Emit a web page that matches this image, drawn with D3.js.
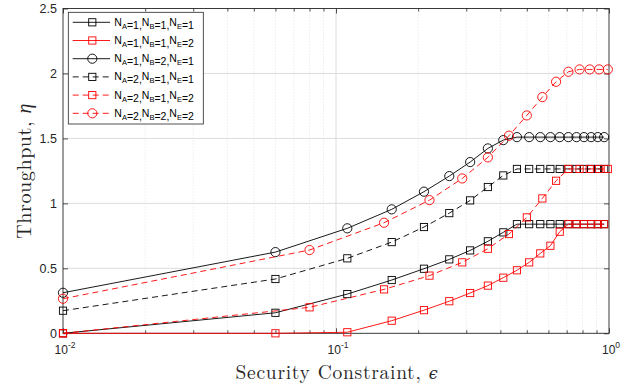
<!DOCTYPE html>
<html><head><meta charset="utf-8">
<script src="https://cdn.jsdelivr.net/npm/d3@7"></script>
<style>body{margin:0;background:#fff}svg{display:block}</style>
</head><body>
<svg id="c" width="635" height="388"></svg>
<script>
// x grids
const xA = [0.01,0.06,0.11,0.16,0.21,0.26,0.31,0.36,0.41,0.46,0.51,0.56,0.61,0.66,0.71,0.76,0.81,0.86,0.91,0.96];
const xB = [0.01,0.08,0.15,0.22,0.29,0.36,0.43,0.50,0.57,0.64,0.71,0.78,0.85,0.92,0.99];
// series values
const s111 = [0,0.158,0.302,0.41,0.497,0.569,0.638,0.708,0.777,0.84,0.84,0.84,0.84,0.84,0.84,0.84,0.84,0.84,0.84,0.84];
const s112 = [0,0,0.008,0.097,0.178,0.247,0.31,0.367,0.428,0.485,0.546,0.615,0.674,0.782,0.84,0.84,0.84,0.84,0.84,0.84];
const s121 = [0.312,0.625,0.808,0.954,1.09,1.21,1.318,1.423,1.487,1.51,1.51,1.51,1.51,1.51,1.51,1.51,1.51,1.51,1.51,1.51];
const s211 = [0.174,0.418,0.577,0.702,0.818,0.925,1.023,1.126,1.215,1.265,1.265,1.265,1.265,1.265,1.265,1.265,1.265,1.265,1.265,1.265];
const s212 = [0,0.2,0.338,0.444,0.546,0.651,0.764,0.892,1.038,1.174,1.265,1.265,1.265,1.265,1.265];
const s222 = [0.266,0.641,0.851,1.025,1.192,1.354,1.521,1.677,1.818,1.936,2.013,2.031,2.031,2.031,2.031];
const legendLabels = [["1","1","1"],["1","1","2"],["1","2","1"],["2","1","1"],["2","1","2"],["2","2","2"]];
const yTicks = [0,0.5,1,1.5,2,2.5];
const xTicks = [0.01,0.1,1];
const xTickExp = ["-2","-1","0"];

const series = [
  {x:xA, y:s111, color:"#000", dash:null, marker:"square"},
  {x:xA, y:s112, color:"#ff0000", dash:null, marker:"square"},
  {x:xA, y:s121, color:"#000", dash:null, marker:"circle"},
  {x:xA, y:s211, color:"#000", dash:"6,4", marker:"square"},
  {x:xB, y:s212, color:"#ff0000", dash:"6,4", marker:"square"},
  {x:xB, y:s222, color:"#ff0000", dash:"6,4", marker:"circle"}
];

const L=63, R=609, T=8.5, B=333.3;
const svg = d3.select("#c");
const x = d3.scaleLog().domain([0.01,1]).range([L,R]);
const y = d3.scaleLinear().domain([0,2.5]).range([B,T]);
const axisColor = "#262626";

// minor grid
const minor = [];
for (let d of [0.01,0.1]) for (let k=2;k<=9;k++) minor.push(d*k);
svg.append("g").selectAll("line").data(minor).join("line")
  .attr("x1",d=>x(d)).attr("x2",d=>x(d)).attr("y1",T).attr("y2",B)
  .attr("stroke","#cfcfcf").attr("stroke-width",0.6).attr("stroke-dasharray","1,2");
// major grid
svg.append("g").selectAll("line").data([0.1]).join("line")
  .attr("x1",d=>x(d)).attr("x2",d=>x(d)).attr("y1",T).attr("y2",B)
  .attr("stroke","#dcdcdc").attr("stroke-width",1);
svg.append("g").selectAll("line").data(yTicks.slice(1,-1)).join("line")
  .attr("x1",L).attr("x2",R).attr("y1",d=>y(d)).attr("y2",d=>y(d))
  .attr("stroke","#dcdcdc").attr("stroke-width",1);

// axes
const gx = svg.append("g").attr("transform",`translate(0,${B})`)
  .call(d3.axisBottom(x).tickValues(xTicks).tickSize(-5).tickFormat(""));
const gxt = svg.append("g").attr("transform",`translate(0,${T})`)
  .call(d3.axisTop(x).tickValues(xTicks).tickSize(-5).tickFormat(""));
const gxm = svg.append("g").attr("transform",`translate(0,${B})`)
  .call(d3.axisBottom(x).tickValues(minor).tickSize(-3).tickFormat(""));
const gxmt = svg.append("g").attr("transform",`translate(0,${T})`)
  .call(d3.axisTop(x).tickValues(minor).tickSize(-3).tickFormat(""));
const gy = svg.append("g").attr("transform",`translate(${L},0)`)
  .call(d3.axisLeft(y).tickValues(yTicks).tickSize(-5).tickFormat(""));
const gyr = svg.append("g").attr("transform",`translate(${R},0)`)
  .call(d3.axisRight(y).tickValues(yTicks).tickSize(-5).tickFormat(""));
[gx,gxt,gxm,gxmt,gy,gyr].forEach(g=>{
  g.select(".domain").remove();
  g.selectAll("line").attr("stroke",axisColor).attr("stroke-width",0.8);
});
svg.append("rect").attr("x",L).attr("y",T).attr("width",R-L).attr("height",B-T)
  .attr("fill","none").attr("stroke",axisColor).attr("stroke-width",0.9);

// tick labels
const font = "Liberation Sans, Arial, Helvetica, sans-serif";
svg.append("g").selectAll("text").data(yTicks).join("text")
  .attr("x",L-6).attr("y",d=>y(d)+4.5).attr("text-anchor","end")
  .attr("font-family",font).attr("font-size",12.5).attr("fill",axisColor)
  .text(d=>d3.format("")(d));
const xl = svg.append("g").selectAll("text").data(xTicks).join("text")
  .attr("x",d=>x(d)+2).attr("y",B+20.5).attr("text-anchor","middle")
  .attr("font-family",font).attr("font-size",12).attr("fill",axisColor);
xl.append("tspan").text("10");
xl.append("tspan").attr("dy",-5.5).attr("font-size",8.5).text((d,i)=>xTickExp[i]);

// axis labels
const serif = "Latin Modern Roman, Liberation Serif, Times New Roman, serif";
const xlab = svg.append("text").attr("x",(L+R)/2 + 1).attr("y",379).attr("text-anchor","middle")
  .attr("font-family",serif).attr("font-size",19.5).attr("letter-spacing",0.7).attr("fill",axisColor);
xlab.append("tspan").text("Security Constraint, ");
xlab.append("tspan").attr("font-family","DejaVu Serif, serif").attr("font-style","italic").attr("font-size",16).text("\u03F5");
const ylab = svg.append("text").attr("transform",`translate(31,${(T+B)/2}) rotate(-90)`)
  .attr("text-anchor","middle").attr("font-family",serif).attr("font-size",20).attr("letter-spacing",0.6).attr("fill",axisColor);
ylab.append("tspan").text("Throughput, ");
ylab.append("tspan").attr("font-style","italic").text("\u03B7");

// series
const line = d3.line().x(d=>x(d[0])).y(d=>y(d[1]));
function drawMarker(g, m, color){
  if (m==="square") g.append("rect").attr("x",-3.6).attr("y",-3.6).attr("width",7.2).attr("height",7.2)
     .attr("fill","none").attr("stroke",color).attr("stroke-width",0.9);
  else g.append("circle").attr("r",4.6).attr("fill","none").attr("stroke",color).attr("stroke-width",0.9);
}
series.forEach(s=>{
  const pts = s.x.map((xv,i)=>[xv,s.y[i]]);
  svg.append("path").datum(pts).attr("d",line).attr("fill","none")
    .attr("stroke",s.color).attr("stroke-width",0.9)
    .attr("stroke-dasharray",s.dash);
  pts.forEach(p=>{
    const g = svg.append("g").attr("transform",`translate(${x(p[0])},${y(p[1])})`);
    drawMarker(g,s.marker,s.color);
  });
});

// legend
const lg = svg.append("g");
lg.append("rect").attr("x",68.3).attr("y",12.3).attr("width",135).attr("height",111.7)
  .attr("fill","#fff").attr("stroke",axisColor).attr("stroke-width",0.8);
series.forEach((s,i)=>{
  const yy = 22.3 + i*18.2;
  lg.append("line").attr("x1",72.7).attr("x2",110).attr("y1",yy).attr("y2",yy)
    .attr("stroke",s.color).attr("stroke-width",0.9).attr("stroke-dasharray",s.dash);
  const g = lg.append("g").attr("transform",`translate(92.3,${yy})`);
  drawMarker(g,s.marker,s.color);
  const t = lg.append("text").attr("x",114.3).attr("y",yy+3.5)
    .attr("font-family",font).attr("font-size",10.5).attr("fill","#000");
  const subs = ["A","B","E"];
  subs.forEach((sb,j)=>{
    t.append("tspan").attr("dy", j===0?0:-3).text("N");
    t.append("tspan").attr("dy",3).attr("font-size",7.5).text(sb);
    t.append("tspan").text("=" + legendLabels[i][j] + (j<2?",":""));
  });
});
</script>
</body></html>
